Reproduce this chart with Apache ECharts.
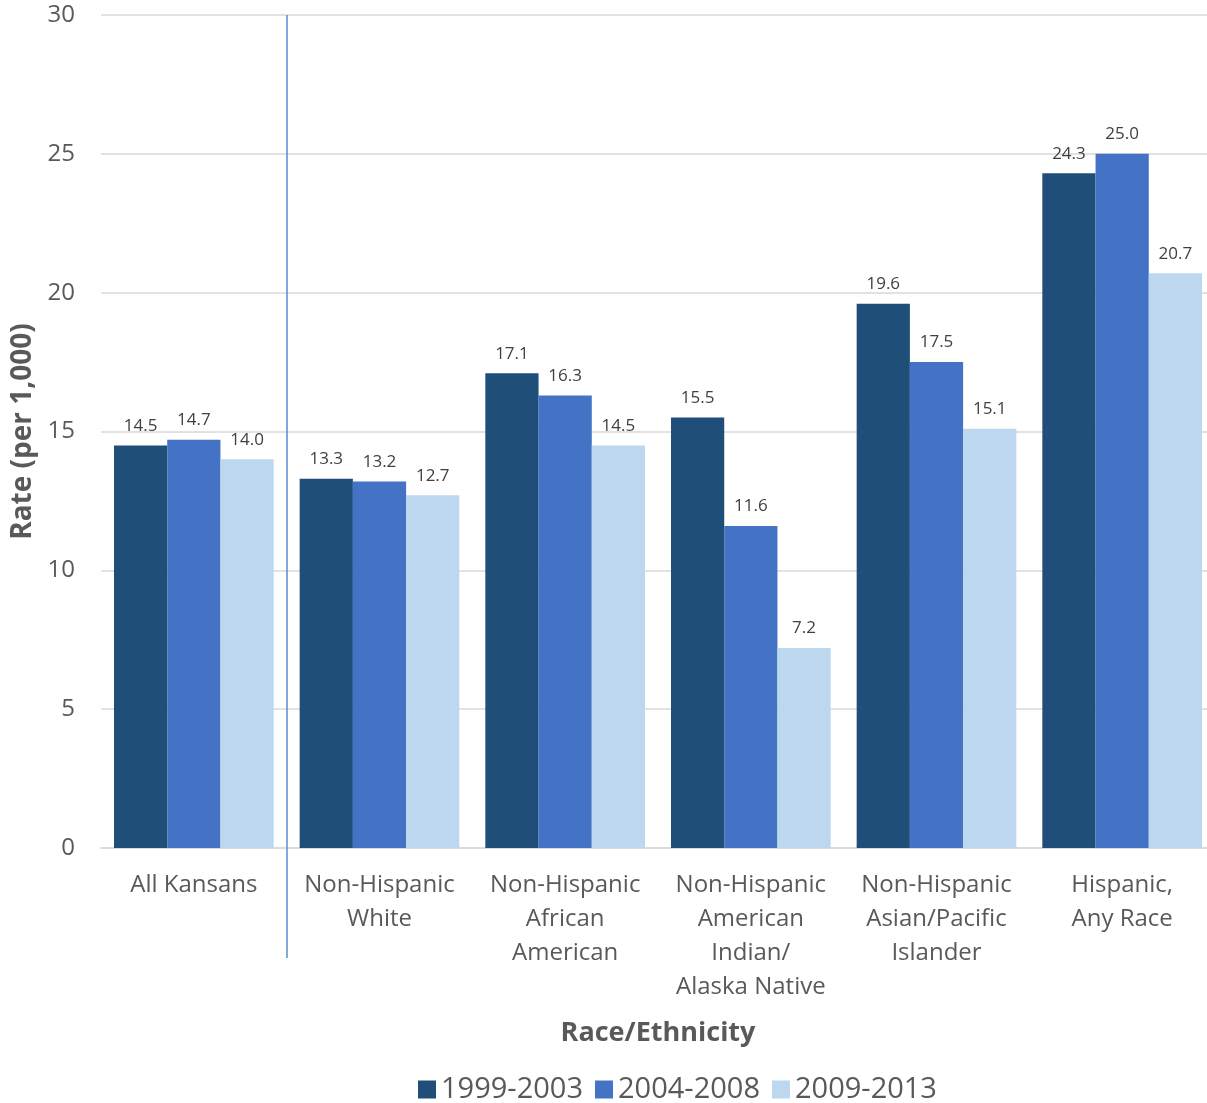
<!DOCTYPE html>
<html>
<head>
<meta charset="utf-8">
<script src="https://cdn.jsdelivr.net/npm/echarts@6/dist/echarts.min.js"></script>
<style>
    html, body { margin: 0; padding: 0; background: #ffffff; }
    #chart { width: 1207px; height: 1103px; }
</style>
</head>
<body>
<div id="chart"></div>
<script>
var categories = [
    'All Kansans',
    'Non-Hispanic\nWhite',
    'Non-Hispanic\nAfrican\nAmerican',
    'Non-Hispanic\nAmerican\nIndian/\nAlaska Native',
    'Non-Hispanic\nAsian/Pacific\nIslander',
    'Hispanic,\nAny Race'
];
var periods = ['1999-2003', '2004-2008', '2009-2013'];
var rates1999 = [14.5, 13.3, 17.1, 15.5, 19.6, 24.3];
var rates2004 = [14.7, 13.2, 16.3, 11.6, 17.5, 25.0];
var rates2009 = [14.0, 12.7, 14.5, 7.2, 15.1, 20.7];
var colors = ['#1F4E79', '#4472C4', '#BDD7EE'];

var font = '"Open Sans", "Liberation Sans", sans-serif';
var chart = echarts.init(document.getElementById('chart'));

function makeSeries(name, data) {
    return {
        name: name,
        type: 'bar',
        data: data,
        barGap: '0%',
        barCategoryGap: '14%',
        label: {
            show: true,
            position: 'top',
            distance: 11,
            color: '#404040',
            fontFamily: font,
            fontSize: 17,
            formatter: function (p) { return p.value.toFixed(1); }
        }
    };
}

var option = {
    animation: false,
    color: colors,
    textStyle: { fontFamily: font },
    grid: {
        left: 101,
        right: -8,
        top: 15,
        bottom: 255,
        outerBoundsMode: 'none'
    },
    legend: {
        data: periods,
        top: 1070,
        left: 413,
        itemWidth: 18,
        itemHeight: 18,
        itemGap: 12,
        icon: 'rect',
        textStyle: { color: '#595959', fontSize: 29, fontFamily: font }
    },
    xAxis: {
        type: 'category',
        data: categories,
        name: 'Race/Ethnicity',
        nameLocation: 'middle',
        nameGap: 172,
        nameTextStyle: { color: '#595959', fontSize: 27, fontWeight: 'bold', fontFamily: font },
        axisLine: { lineStyle: { color: '#d9d9d9', width: 1.5 } },
        axisTick: { show: false },
        axisLabel: {
            color: '#595959',
            fontSize: 24,
            lineHeight: 34,
            margin: 20,
            interval: 0,
            fontFamily: font
        }
    },
    yAxis: {
        type: 'value',
        min: 0,
        max: 30,
        interval: 5,
        name: 'Rate (per 1,000)',
        nameLocation: 'middle',
        nameGap: 64,
        nameRotate: 90,
        nameTextStyle: { color: '#595959', fontSize: 28, fontWeight: 'bold', fontFamily: font },
        axisLine: { show: false },
        axisTick: { show: false },
        axisLabel: { color: '#595959', fontSize: 24, margin: 26, fontFamily: font },
        splitLine: { lineStyle: { color: '#d9d9d9', width: 1.5 } }
    },
    series: [
        makeSeries(periods[0], rates1999),
        makeSeries(periods[1], rates2004),
        makeSeries(periods[2], rates2009)
    ]
};
chart.setOption(option);

// separator line between "All Kansans" and the rest
var p0 = chart.convertToPixel({ xAxisIndex: 0 }, 0);
var p1 = chart.convertToPixel({ xAxisIndex: 0 }, 1);
var sepX = Math.round((p0 + p1) / 2);
var topY = chart.convertToPixel({ yAxisIndex: 0 }, 30);
chart.setOption({
    graphic: [{
        type: 'line',
        shape: { x1: sepX, y1: topY, x2: sepX, y2: 958 },
        style: { stroke: '#5B8AD6', lineWidth: 1.5 },
        z: 10
    }]
});
</script>
</body>
</html>
